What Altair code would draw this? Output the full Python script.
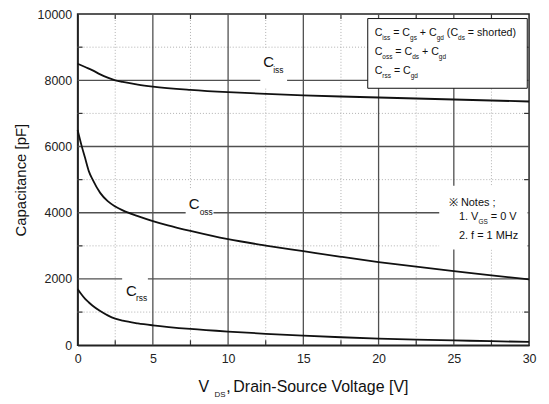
import altair as alt
import pandas as pd

# ---------------- data ----------------
vds_ciss = [0, 0.5, 1, 1.5, 2, 2.5, 3, 4, 5, 7.5, 10, 12.5, 15, 17.5, 20, 22.5, 25, 27.5, 30]
ciss = [8500, 8400, 8300, 8180, 8080, 8000, 7950, 7870, 7810, 7710, 7640, 7590, 7545, 7510,
        7480, 7450, 7420, 7390, 7360]
vds_coss = [0, 0.25, 0.5, 0.75, 1, 1.5, 2, 2.5, 3, 4, 5, 6, 7.5, 10, 12.5, 15, 17.5, 20, 22.5,
            25, 27.5, 30]
coss = [6500, 6050, 5650, 5250, 5000, 4600, 4350, 4190, 4070, 3900, 3750, 3620, 3450, 3200,
        3010, 2840, 2670, 2510, 2370, 2240, 2110, 1990]
vds_crss = [0, 0.25, 0.5, 0.75, 1, 1.5, 2, 2.5, 3, 4, 5, 7.5, 10, 12.5, 15, 17.5, 20, 22.5, 25,
            27.5, 30]
crss = [1700, 1540, 1400, 1290, 1190, 1030, 900, 800, 740, 660, 600, 490, 410, 345, 290, 240,
        200, 170, 145, 120, 100]

x_ticks = [0, 5, 10, 15, 20, 25, 30]
y_ticks = [0, 2000, 4000, 6000, 8000, 10000]
x_minor = [2.5, 7.5, 12.5, 17.5, 22.5, 27.5]
y_minor = [1000, 3000, 5000, 7000, 9000]
x_major = [5, 10, 15, 20, 25]
y_major = [2000, 4000, 6000, 8000]

x_title = "Drain-Source Voltage [V]"
y_title = "Capacitance [pF]"

# ---------------- layout ----------------
W, H = 454, 333
PX_V = W / 30.0
PX_PF = H / 10000.0
FONT = "Liberation Sans, Arial, Helvetica, sans-serif"
NARROW = "Liberation Sans Narrow, Arial Narrow, Liberation Sans, Arial, sans-serif"

AW = {' ': 278, '!': 278, '(': 333, ')': 333, '+': 584, ',': 278, '-': 333, '.': 278,
      ';': 278, '=': 584, '[': 278, ']': 278, 'C': 722, 'D': 722, 'F': 611, 'G': 778,
      'H': 722, 'M': 833, 'S': 667, 'V': 667, 'a': 556, 'c': 500, 'd': 556, 'e': 556,
      'f': 278, 'g': 556, 'h': 556, 'i': 222, 'l': 222, 'n': 556, 'o': 556, 'p': 556,
      'r': 333, 's': 500, 't': 278, 'u': 556, 'z': 500}


def tw(text, size):
    return sum(AW.get(ch, 556) for ch in text) * size / 1000.0


def typeset(x_v, y_pf, parts, size, sub_size, drop):
    rows = []
    cur = 0.0
    for text, sub in parts:
        fs = sub_size if sub else size
        lead = len(text) - len(text.lstrip(' '))
        cur += tw(' ' * lead, fs)
        t = text.strip(' ')
        rows.append(dict(x=x_v + cur / PX_V, y=y_pf - (drop if sub else 0) / PX_PF,
                         text=t, size=fs))
        cur += tw(t, fs)
        trail = len(text) - len(text.rstrip(' '))
        cur += tw(' ' * trail, fs) if t else 0
    return rows


rows = []
# legend box lines
rows += typeset(19.74, 9323, [("C", 0), ("iss", 1), (" = C", 0), ("gs", 1), (" + C", 0),
                              ("gd", 1), (" (C", 0), ("ds", 1), (" = shorted)", 0)], 10.7, 6.5, 3.5)
rows += typeset(19.74, 8752, [("C", 0), ("oss", 1), (" = C", 0), ("ds", 1), (" + C", 0),
                              ("gd", 1)], 10.7, 6.5, 3.5)
rows += typeset(19.74, 8180, [("C", 0), ("rss", 1), (" = C", 0), ("gd", 1)], 10.7, 6.5, 3.5)
# notes
rows += typeset(24.67, 4211, [("※ Notes ;", 0)], 11, 7, 4)
rows += typeset(25.34, 3768, [("1. V", 0), ("GS", 1), (" = 0 V", 0)], 11, 6.5, 4)
rows += typeset(25.34, 3203, [("2. f = 1 MHz", 0)], 11, 7, 4)
# x axis title (with subscript)
rows.append(dict(x=8.04, y=-1414, text="V", size=16))
rows.append(dict(x=9.10, y=-1564, text="DS", size=8))
rows.append(dict(x=9.88, y=-1414, text=",", size=16))
rows.append(dict(x=10.35, y=-1414, text=x_title, size=16))
text_df = pd.DataFrame(rows)

label_rows = [
    dict(x=12.34, y=8391, text="C", size=15), dict(x=13.0, y=8220, text="iss", size=8.5),
    dict(x=7.38, y=4111, text="C", size=15), dict(x=8.11, y=3940, text="oss", size=8.5),
    dict(x=3.22, y=1474, text="C", size=15), dict(x=3.88, y=1323, text="rss", size=8.5),
]
label_df = pd.DataFrame(label_rows)

box_df = pd.DataFrame([
    dict(x=12.14, x2=13.92, y=8962, y2=7789),
    dict(x=7.18, x2=9.03, y=4692, y2=3699),
    dict(x=2.96, x2=4.67, y=2075, y2=1233),
    dict(x=24.03, x2=29.9, y=4812, y2=2887),
])
legend_df = pd.DataFrame([dict(x=19.28, x2=29.88, y=9865, y2=7759)])

curves = pd.concat([
    pd.DataFrame({"v": vds_ciss, "c": ciss, "s": "Ciss"}),
    pd.DataFrame({"v": vds_coss, "c": coss, "s": "Coss"}),
    pd.DataFrame({"v": vds_crss, "c": crss, "s": "Crss"}),
])

tv = 5 / PX_V
tp = 5 / PX_PF
tick_rows = []
for v in x_minor:
    tick_rows.append(dict(x=v, x2=v, y=0, y2=tp))
    tick_rows.append(dict(x=v, x2=v, y=10000 - tp, y2=10000))
for c in y_minor:
    tick_rows.append(dict(x=0, x2=tv, y=c, y2=c))
    tick_rows.append(dict(x=30 - tv, x2=30, y=c, y2=c))
tick_df = pd.DataFrame(tick_rows)

xs = alt.Scale(domain=[0, 30], nice=False, zero=False)
ys = alt.Scale(domain=[0, 10000], nice=False)

XA = alt.Axis(values=x_ticks, title=None, grid=False, tickSize=0, labelPadding=7,
              labelFlush=False, labelFontSize=12.5, labelColor="#222222",
              domainColor="#222222", domainWidth=1.5, labelFont=FONT)
YA = alt.Axis(values=y_ticks, title=y_title, grid=False, tickSize=0, labelPadding=6,
              labelFlush=False, format="d", labelFontSize=12.5, labelColor="#222222",
              domainColor="#222222", domainWidth=1.5, labelFont=FONT,
              titleFont=FONT, titleFontSize=15, titleFontWeight="normal",
              titleColor="#111111", titlePadding=9)


def X(f):
    return alt.X(f, scale=xs, axis=XA)


def Y(f):
    return alt.Y(f, scale=ys, axis=YA)


minor_v = alt.Chart(pd.DataFrame({"v": x_minor})).mark_rule(
    color="#b0b0b0", strokeDash=[1, 2], strokeWidth=1).encode(x=X("v:Q"))
minor_h = alt.Chart(pd.DataFrame({"c": y_minor})).mark_rule(
    color="#b0b0b0", strokeDash=[1, 2], strokeWidth=1).encode(y=Y("c:Q"))
major_v = alt.Chart(pd.DataFrame({"v": x_major})).mark_rule(
    color="#505050", strokeWidth=1.3).encode(x=X("v:Q"))
major_h = alt.Chart(pd.DataFrame({"c": y_major})).mark_rule(
    color="#505050", strokeWidth=1.3).encode(y=Y("c:Q"))
ticks = alt.Chart(tick_df).mark_rule(color="#333333", strokeWidth=1.2).encode(
    x=X("x:Q"), x2="x2:Q", y=Y("y:Q"), y2="y2:Q")
boxes = alt.Chart(box_df).mark_rect(fill="white", stroke=None).encode(
    x=X("x:Q"), x2="x2:Q", y=Y("y:Q"), y2="y2:Q")
legend_box = alt.Chart(legend_df).mark_rect(fill="white", stroke="#111111", strokeWidth=1).encode(
    x=X("x:Q"), x2="x2:Q", y=Y("y:Q"), y2="y2:Q")

lines = alt.Chart(curves).mark_line(color="#111111", strokeWidth=1.8,
                                    interpolate="monotone").encode(
    x=X("v:Q"), y=Y("c:Q"), detail="s:N")

texts = alt.Chart(text_df).mark_text(align="left", baseline="alphabetic", font=FONT,
                                     color="#111111").encode(
    x=X("x:Q"), y=Y("y:Q"),
    text="text:N", size=alt.Size("size:Q", scale=None, legend=None))
labels = alt.Chart(label_df).mark_text(align="left", baseline="alphabetic", font=NARROW,
                                       color="#111111").encode(
    x=X("x:Q"), y=Y("y:Q"),
    text="text:N", size=alt.Size("size:Q", scale=None, legend=None))

chart = alt.layer(
    minor_v, minor_h, major_v, major_h, ticks, boxes, legend_box, lines, texts, labels
).properties(
    width=W, height=H,
    autosize=alt.AutoSizeParams(type="none"),
    padding={"left": 70, "top": 5, "right": 12, "bottom": 52},
    background="white",
).configure_view(stroke="#222222", strokeWidth=1.5)

chart.save("out.html", embed_options={"renderer": "svg", "actions": False})
